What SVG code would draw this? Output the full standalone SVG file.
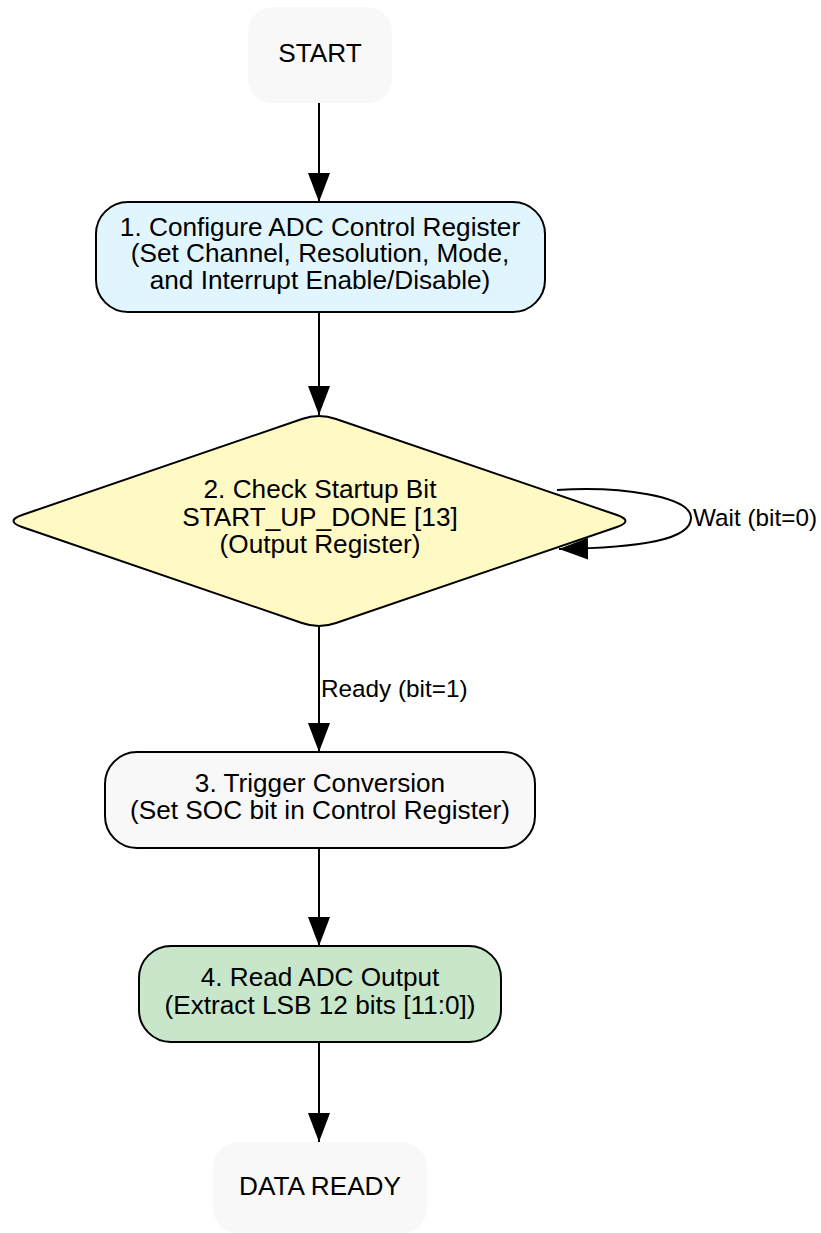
<svg xmlns="http://www.w3.org/2000/svg" width="821" height="1233" viewBox="0 0 821 1233">
<style>
.lbl{font-family:"Liberation Sans",Arial,sans-serif;font-size:26.2px;fill:#000;text-anchor:middle}
.elbl{font-family:"Liberation Sans",Arial,sans-serif;font-size:24.3px;fill:#000}
.box{stroke:#000;stroke-width:2}
.term{fill:#f8f8f8;stroke:none}
.edge{fill:none;stroke:#000;stroke-width:2}
</style>
<defs>
<marker id="ah" markerUnits="userSpaceOnUse" markerWidth="30" markerHeight="24" viewBox="0 0 30 24" refX="29" refY="12" orient="auto">
<path d="M0,1 L29,12 L0,23 Z" fill="#000"/>
</marker>
</defs>
<rect width="821" height="1233" fill="#fff"/>
<g id="connectors">
<line class="edge" x1="319" y1="103" x2="319" y2="202" marker-end="url(#ah)"/>
<line class="edge" x1="319" y1="312" x2="319" y2="415" marker-end="url(#ah)"/>
<path class="edge" d="M557,490 C620,486 691,496 691,518 C691,540 640,548 559,549" marker-end="url(#ah)"/>
<text class="elbl" x="693" y="526">Wait (bit=0)</text>
<line class="edge" x1="319" y1="627" x2="319" y2="752" marker-end="url(#ah)"/>
<text class="elbl" x="321" y="697">Ready (bit=1)</text>
<line class="edge" x1="319" y1="848" x2="319" y2="946" marker-end="url(#ah)"/>
<line class="edge" x1="319" y1="1042" x2="319" y2="1142" marker-end="url(#ah)"/>
</g>
<g id="start">
<rect class="term" x="248" y="7" width="144" height="96" rx="25"/>
<text class="lbl" x="320" y="62">START</text>
</g>
<g id="configure">
<rect class="box" x="96" y="202" width="449" height="110" rx="32" fill="#e1f5fe"/>
<text class="lbl" x="320" y="236">1. Configure ADC Control Register</text>
<text class="lbl" x="320" y="262">(Set Channel, Resolution, Mode,</text>
<text class="lbl" x="320" y="289">and Interrupt Enable/Disable)</text>
</g>
<g id="check">
<path class="box" fill="#fff9c4" d="M302,419 Q319,413 336,419 L617,515 Q634,521 617,527 L336,623 Q319,629 302,623 L22,527 Q5,521 22,515 Z"/>
<text class="lbl" x="320" y="498">2. Check Startup Bit</text>
<text class="lbl" x="320" y="526">START_UP_DONE [13]</text>
<text class="lbl" x="320" y="553">(Output Register)</text>
</g>
<g id="trigger">
<rect class="box" x="105" y="752" width="430" height="96" rx="32" fill="#f8f8f8"/>
<text class="lbl" x="320" y="792">3. Trigger Conversion</text>
<text class="lbl" x="320" y="819">(Set SOC bit in Control Register)</text>
</g>
<g id="read">
<rect class="box" x="139" y="946" width="362" height="96" rx="32" fill="#c8e6c9"/>
<text class="lbl" x="320" y="986">4. Read ADC Output</text>
<text class="lbl" x="320" y="1014">(Extract LSB 12 bits [11:0])</text>
</g>
<g id="dataready">
<rect class="term" x="213" y="1142" width="214" height="91" rx="25"/>
<text class="lbl" x="320" y="1195">DATA READY</text>
</g>
</svg>
